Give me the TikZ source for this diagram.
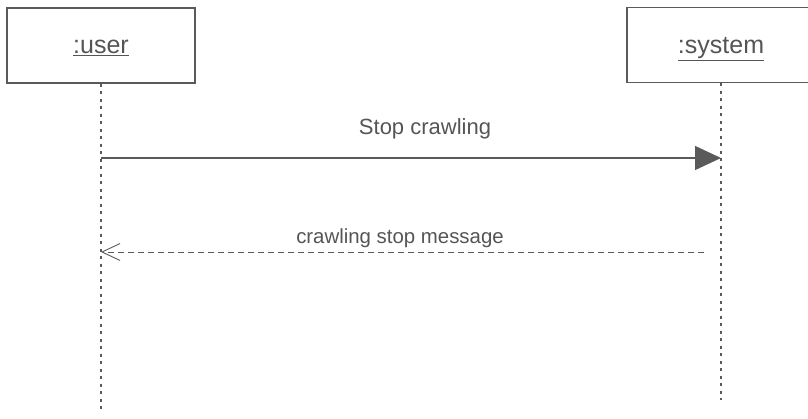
\documentclass[tikz,border=0pt]{standalone}
\usepackage{fontspec}
\setmainfont{Liberation Sans}
\usepackage{xcolor}
\usetikzlibrary{arrows.meta,positioning}

\definecolor{inkgray}{HTML}{555555}
\definecolor{linegray}{HTML}{5A5A5A}

\begin{document}
\begin{tikzpicture}[
    x=1pt, y=-1pt,
    every node/.style={text=inkgray},
    lifebox/.style ={rectangle,draw=linegray,line width=1.2pt,
                     minimum width=188pt,minimum height=75pt,
                     text height=23pt,text depth=6pt,
                     inner sep=0pt,font=\fontsize{25}{30}\selectfont},
    lifeline/.style={linegray,line width=1.4pt,dash pattern=on 3pt off 4.5pt},
    msglbl/.style  ={inner sep=0pt},
    callmsg/.style ={-{Triangle[length=26pt,width=24pt]},linegray,line width=1.2pt},
    retmsg/.style  ={-{Straight Barb[length=18pt,width=17pt]},linegray,
                     line width=0.9pt,dash pattern=on 6pt off 4pt},
  ]
  \useasboundingbox (0,0) rectangle (808,419);

  % Participants
  \node[lifebox] (user)   at (101,45.5) {\underline{:user}};
  \node[lifebox] (system) at (721,45)   {\underline{:system}};

  % Lifelines
  \coordinate (userend) at (101,410);
  \coordinate (sysend)  at (721,400);
  \draw[lifeline] (user.south)   -- (userend);
  \draw[lifeline] (system.south) -- (sysend);

  % Messages
  \coordinate (callfrom) at (101,158);
  \coordinate (callto)   at (721,158);
  \coordinate (retfrom)  at (704,252);
  \coordinate (retto)    at (101,252);
  \draw[callmsg] (callfrom) -- (callto);
  \node[msglbl,font=\fontsize{22}{26}\selectfont] (calllbl) at (425,129) {Stop crawling};
  \draw[retmsg] (retfrom) -- (retto);
  \node[msglbl,font=\fontsize{20.4}{24}\selectfont] (retlbl) at (400,238) {crawling stop message};
\end{tikzpicture}
\end{document}
